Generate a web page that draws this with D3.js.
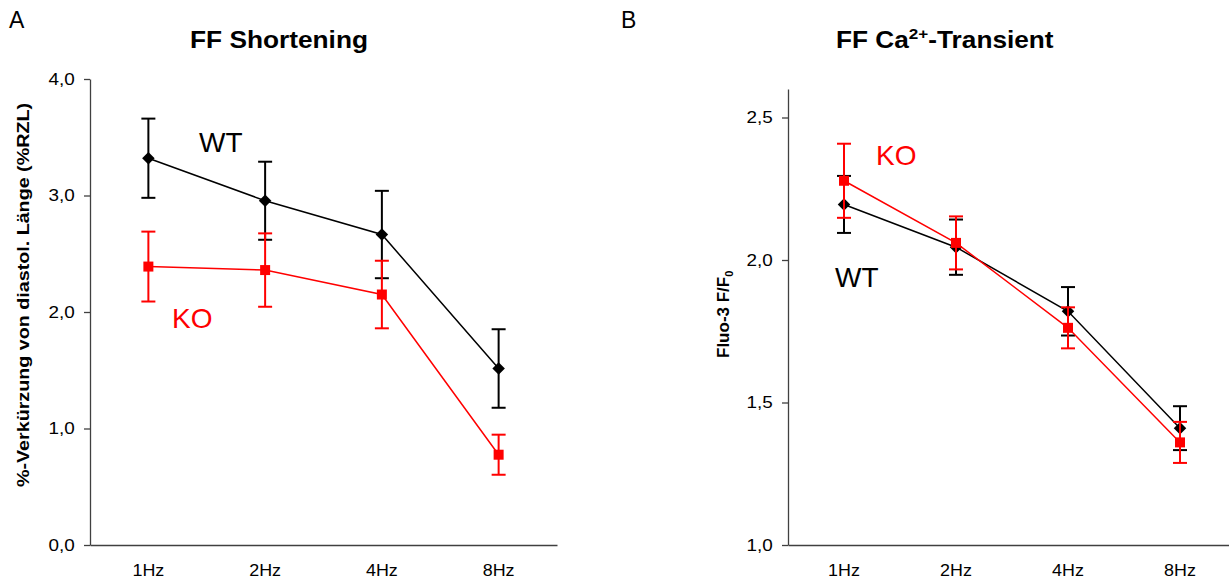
<!DOCTYPE html>
<html>
<head>
<meta charset="utf-8">
<script src="https://cdn.jsdelivr.net/npm/d3@7"></script>
<style>
  html, body { margin: 0; padding: 0; background: #fff; }
  svg { display: block; font-family: "Liberation Sans", Arial, sans-serif; }
</style>
</head>
<body>
<svg id="chart" width="1229" height="580"></svg>
<script>
// Stimulation frequencies
const categories = ["1Hz", "2Hz", "4Hz", "8Hz"];

// Panel A: fractional shortening (% of diastolic length), mean and SEM
const shortWT    = [3.32, 2.955, 2.665, 1.515];
const shortWTErr = [0.34, 0.335, 0.375, 0.337];
const shortKO    = [2.39, 2.36, 2.15, 0.775];
const shortKOErr = [0.30, 0.315, 0.29, 0.172];
const ticksA     = [0, 1, 2, 3, 4];

// Panel B: Ca2+ transient amplitude (Fluo-3 F/F0), mean and SEM
const caWT    = [2.195, 2.045, 1.82, 1.41];
const caWTErr = [0.10, 0.097, 0.085, 0.077];
const caKO    = [2.278, 2.06, 1.762, 1.36];
const caKOErr = [0.13, 0.093, 0.072, 0.072];
const ticksB  = [1.0, 1.5, 2.0, 2.5];

const svg = d3.select("#chart");
const commaFmt = v => d3.format(".1f")(v).replace(".", ",");

function drawPanel(cfg) {
  const x = d3.scaleBand().domain(categories).range([cfg.x0, cfg.x1]);
  const y = d3.scaleLinear().domain(cfg.domain).range([cfg.yBottom, cfg.yTop]);
  const cx = c => x(c) + x.bandwidth() / 2;

  // y axis
  const yAxis = svg.append("g")
    .attr("transform", `translate(${cfg.x0},0)`)
    .call(d3.axisLeft(y).tickValues(cfg.ticks).tickFormat(commaFmt).tickSize(6).tickPadding(7).tickSizeOuter(0));
  yAxis.select(".domain").attr("stroke", "#404040").attr("stroke-width", 1.3);
  yAxis.selectAll(".tick line").attr("stroke", "#404040").attr("stroke-width", 1.3);
  yAxis.selectAll(".tick text")
    .attr("font-size", 16).attr("fill", "#000").attr("font-family", null)
    .attr("transform", "scale(1.18,1)");

  // x axis
  const xAxis = svg.append("g")
    .attr("transform", `translate(0,${cfg.yBottom})`)
    .call(d3.axisBottom(x).tickSize(0).tickPadding(20).tickSizeOuter(0));
  xAxis.select(".domain").attr("stroke", "#404040").attr("stroke-width", 1.3);
  xAxis.selectAll(".tick text")
    .attr("font-size", 16).attr("fill", "#000").attr("font-family", null)
    .attr("transform", "scale(1.12,1)");

  cfg.series.forEach(s => {
    const pts = categories.map((c, i) => ({ c, v: s.values[i], e: s.errors[i] }));
    const g = svg.append("g");
    // connecting line
    g.append("path")
      .datum(pts)
      .attr("fill", "none")
      .attr("stroke", s.color)
      .attr("stroke-width", 1.5)
      .attr("d", d3.line().x(d => cx(d.c)).y(d => y(d.v)));
    // error bars
    const eb = g.selectAll(".eb").data(pts).join("g").attr("stroke", s.color).attr("stroke-width", 2);
    eb.append("line")
      .attr("x1", d => cx(d.c)).attr("x2", d => cx(d.c))
      .attr("y1", d => y(d.v - d.e)).attr("y2", d => y(d.v + d.e));
    eb.append("line")
      .attr("x1", d => cx(d.c) - 7).attr("x2", d => cx(d.c) + 7)
      .attr("y1", d => y(d.v + d.e)).attr("y2", d => y(d.v + d.e));
    eb.append("line")
      .attr("x1", d => cx(d.c) - 7).attr("x2", d => cx(d.c) + 7)
      .attr("y1", d => y(d.v - d.e)).attr("y2", d => y(d.v - d.e));
    // markers: diamonds are squares turned by 45 degrees
    g.selectAll(".mk").data(pts).join("path")
      .attr("fill", s.color)
      .attr("transform", d => `translate(${cx(d.c)},${y(d.v)})` + (s.diamond ? " rotate(45)" : ""))
      .attr("d", d3.symbol().type(d3.symbolSquare).size(s.diamond ? 78 : 100));
  });

  // series labels
  cfg.labels.forEach(l => {
    svg.append("text")
      .attr("x", l.x).attr("y", l.y)
      .attr("font-size", 28).attr("fill", l.color)
      .text(l.text);
  });
}

const wtColor = "#000000";
const koColor = "#ff0000";

drawPanel({
  x0: 90, x1: 557, yTop: 79, yBottom: 545, domain: [0, 4], ticks: ticksA,
  series: [
    { values: shortWT, errors: shortWTErr, color: wtColor, diamond: true },
    { values: shortKO, errors: shortKOErr, color: koColor, diamond: false }
  ],
  labels: [
    { text: "WT", x: 199, y: 152, color: wtColor },
    { text: "KO", x: 172, y: 328, color: koColor }
  ]
});

drawPanel({
  x0: 788, x1: 1236, yTop: 89, yBottom: 545, domain: [1, 2.6], ticks: ticksB,
  series: [
    { values: caWT, errors: caWTErr, color: wtColor, diamond: true },
    { values: caKO, errors: caKOErr, color: koColor, diamond: false }
  ],
  labels: [
    { text: "WT", x: 835, y: 287, color: wtColor },
    { text: "KO", x: 876, y: 165, color: koColor }
  ]
});

// Panel letters
svg.append("text").attr("x", 9).attr("y", 28).attr("font-size", 23).text("A");
svg.append("text").attr("x", 621).attr("y", 28).attr("font-size", 23).text("B");

// Titles
svg.append("text").attr("x", 190).attr("y", 48).attr("font-size", 23).attr("font-weight", "bold")
  .attr("textLength", 178).attr("lengthAdjust", "spacingAndGlyphs")
  .text("FF Shortening");

const tB = svg.append("g").attr("transform", "translate(836,48) scale(1.14,1)")
  .append("text").attr("font-size", 23).attr("font-weight", "bold");
tB.append("tspan").text("FF Ca");
tB.append("tspan").attr("font-size", 15).attr("dy", -9).text("2+");
tB.append("tspan").attr("dy", 9).text("-Transient");

// Axis titles
svg.append("text")
  .attr("transform", "translate(29,295) rotate(-90)")
  .attr("text-anchor", "middle")
  .attr("font-size", 16).attr("font-weight", "bold")
  .attr("textLength", 384).attr("lengthAdjust", "spacingAndGlyphs")
  .text("%-Verkürzung von diastol. Länge (%RZL)");

const yl = svg.append("text")
  .attr("transform", "translate(729,358) rotate(-90)")
  .attr("font-size", 17).attr("font-weight", "bold");
yl.append("tspan").text("Fluo-3 F/F");
yl.append("tspan").attr("font-size", 11).attr("dy", 4).text("0");
</script>
</body>
</html>
